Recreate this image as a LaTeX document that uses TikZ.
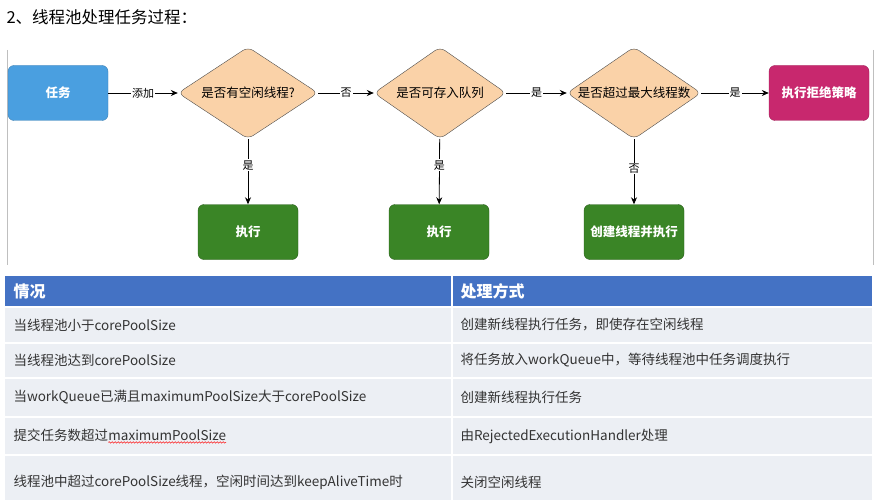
\documentclass[tikz,border=0pt]{standalone}
\usepackage{fontspec}
\setmainfont{Noto Sans CJK SC}
\usetikzlibrary{shapes.geometric,arrows.meta,decorations.pathmorphing}
\definecolor{blu}{HTML}{4A9FE0}
\definecolor{peach}{HTML}{FAD2A8}
\definecolor{grn}{HTML}{3A8526}
\definecolor{rej}{HTML}{C8286E}
\definecolor{hdr}{HTML}{4472C4}
\definecolor{rowbg}{HTML}{ECEFF4}
\definecolor{txt}{HTML}{333333}
\begin{document}
\begin{tikzpicture}[x=1pt,y=-1pt,
 box/.style={rounded corners=6pt,minimum width=100pt,minimum height=55pt,text=white,font=\bfseries\fontsize{12.5}{14}\selectfont,inner sep=0},
 dia/.style={diamond,aspect=1.5,draw=black!70,fill=peach,rounded corners=6pt,minimum width=140pt,minimum height=92pt,inner sep=0,font=\fontsize{12.5}{14}\selectfont},
 arr/.style={-{Stealth[length=7pt,width=6pt]},thick},
 lab/.style={fill=white,inner sep=1pt,font=\fontsize{11}{12}\selectfont},
 cell/.style={anchor=west,text=txt,font=\fontsize{13.5}{15}\selectfont},
 hcell/.style={anchor=west,text=white,font=\bfseries\fontsize{16}{18}\selectfont}]
\useasboundingbox (0,0) rectangle (880,500);
\node[anchor=west,font=\fontsize{16.5}{18}\selectfont] (title) at (3,17) {2、线程池处理任务过程：};
\draw[black!25] (7,50) -- (7,265) (873,50) -- (873,265);
\node[box,fill=blu,draw=blu!80!black] (task) at (58,93) {任务};
\node[dia] (d1) at (248,93) {是否有空闲线程?};
\node[dia,minimum width=132pt] (d2) at (440,93) {是否可存入队列};
\node[dia,minimum width=134pt] (d3) at (634,93) {是否超过最大线程数};
\node[box,fill=rej,draw=rej!80!black] (rej) at (819,93) {执行拒绝策略};
\node[box,fill=grn,draw=grn!70!black] (e1) at (248,232) {执行};
\node[box,fill=grn,draw=grn!70!black] (e2) at (439,232) {执行};
\node[box,fill=grn,draw=grn!70!black] (e3) at (634,232) {创建线程并执行};
\draw[arr] (task) -- node[lab]{添加} (d1);
\draw[arr] (d1) -- node[lab]{否} (d2);
\draw[arr] (d2) -- node[lab]{是} (d3);
\draw[arr] (d3) -- node[lab]{是} (rej);
\draw[arr] (d1) -- node[lab,pos=0.4]{是} (e1);
\draw[arr] (d2) -- node[lab,pos=0.4]{是} (e2);
\draw[arr] (d3) -- node[lab,pos=0.45]{否} (e3);
% table
\fill[hdr] (5,276) rectangle (872,306);
\foreach \a/\b in {308/342,344/377,379/416,418/454,456/500}{
 \fill[rowbg] (5,\a) rectangle (451,\b);
 \fill[rowbg] (453,\a) rectangle (872,\b);}
\draw[white,line width=1.5pt] (452,276) -- (452,500);
\node[hcell] (h1) at (10,291) {情况};
\node[hcell] (h2) at (457,291) {处理方式};
\node[cell] (a1) at (10,325) {当线程池小于corePoolSize};
\node[cell] (b1) at (457,325) {创建新线程执行任务，即使存在空闲线程};
\node[cell] (a2) at (10,360) {当线程池达到corePoolSize};
\node[cell] (b2) at (457,360) {将任务放入workQueue中，等待线程池中任务调度执行};
\node[cell] (a3) at (10,397) {当workQueue已满且maximumPoolSize大于corePoolSize};
\node[cell] (b3) at (457,397) {创建新线程执行任务};
\node[cell] (a4) at (10,436) {提交任务数超过\tikz[baseline]{\node[inner sep=0,anchor=base] (m) {maximumPoolSize};\draw[red,decorate,decoration={snake,amplitude=0.8pt,segment length=3pt}] ([yshift=-2pt]m.south west) -- ([yshift=-2pt]m.south east);}};
\node[cell] (b4) at (457,436) {由RejectedExecutionHandler处理};
\node[cell] (a5) at (10,482) {线程池中超过corePoolSize线程，空闲时间达到keepAliveTime时};
\node[cell] (b5) at (457,482) {关闭空闲线程};
\end{tikzpicture}
\end{document}
